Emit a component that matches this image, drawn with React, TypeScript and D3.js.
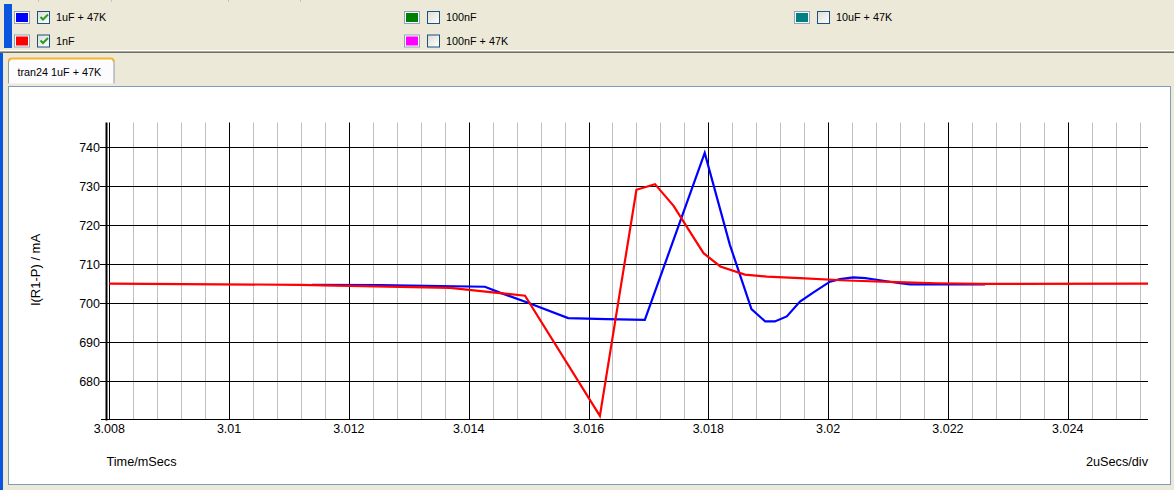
import React from "react";
import * as d3 from "d3";

// ---- data ----
const seriesNames = ["1uF + 47K", "100nF", "10uF + 47K", "1nF", "100nF + 47K"];
const seriesColors = ["#0000FF", "#008000", "#008080", "#FF0000", "#FF00FF"];
const seriesChecked = [true, false, false, true, false];

const blueT = [3.01138, 3.01252, 3.01427, 3.01452, 3.01499, 3.01566, 3.0163, 3.01694, 3.01794, 3.01836, 3.01872, 3.01895, 3.01911, 3.01931, 3.01953, 3.01975, 3.02003, 3.0202, 3.02042, 3.02062, 3.02081, 3.0212, 3.02137, 3.02262];
const blueV = [704.7, 704.6, 704.2, 702.7, 700.1, 696.15, 695.9, 695.7, 738.5, 714.95, 698.46, 695.3, 695.3, 696.6, 700.4, 702.7, 705.5, 706.15, 706.6, 706.4, 706.0, 705.1, 704.8, 704.8];

const redT = [3.008, 3.01118, 3.01369, 3.01452, 3.01494, 3.01619, 3.0168, 3.01711, 3.01742, 3.01792, 3.0182, 3.01861, 3.01898, 3.01953, 3.02031, 3.02115, 3.02181, 3.02254, 3.02534];
const redV = [705.0, 704.7, 703.9, 702.56, 701.9, 671.1, 729.05, 730.5, 724.95, 712.8, 709.4, 707.3, 706.8, 706.4, 705.8, 705.4, 705.1, 704.95, 705.0];

const xTicks = [3.008, 3.01, 3.012, 3.014, 3.016, 3.018, 3.02, 3.022, 3.024];
const yTicks = [680, 690, 700, 710, 720, 730, 740];

const xDomain = [3.008, 3.02534];
const yDomain = [670.3, 746.3];

const FONT = "'Liberation Sans', Arial, sans-serif";

export default function App() {
  const left = 109.3, right = 1148, top = 122.5, bottom = 419;
  const x = d3.scaleLinear().domain(xDomain).range([left, right]);
  const y = d3.scaleLinear().domain(yDomain).range([bottom, top]);
  const line = d3.line<[number, number]>().x(d => x(d[0])).y(d => y(d[1]));
  const blue = blueT.map((t, i) => [t, blueV[i]] as [number, number]);
  const red = redT.map((t, i) => [t, redV[i]] as [number, number]);
  const minor = d3.range(0, 44).map(i => 3.008 + i * 0.0004).filter(t => t <= xDomain[1]);
  const fmt = d3.format(".4~f");

  const legendCols = [14, 404, 794];
  const legendRows = [11, 34.5];
  // order: col-major as in picture
  const legendItems = [
    { i: 0, c: 0, r: 0 },
    { i: 3, c: 0, r: 1 },
    { i: 1, c: 1, r: 0 },
    { i: 4, c: 1, r: 1 },
    { i: 2, c: 2, r: 0 },
  ];

  return (
    <svg width={1174} height={490} style={{ position: "absolute", left: 0, top: 0 }} fontFamily={FONT}>
      <defs>
        <linearGradient id="cb" x1="0" y1="0" x2="1" y2="1">
          <stop offset="0" stopColor="#DCDCD6" />
          <stop offset="1" stopColor="#FFFFFF" />
        </linearGradient>
      </defs>
      <rect x={0} y={0} width={1174} height={490} fill="#ECE9D8" />
      {/* top strip separators */}
      {[38, 111, 228, 300].map(v => (
        <line key={v} x1={v + 0.5} x2={v + 0.5} y1={0} y2={2} stroke="#C8C5B5" />
      ))}
      {/* left blue bars */}
      <rect x={4} y={4} width={8} height={44} fill="#0A55E0" />
      <rect x={0} y={52} width={3} height={438} fill="#0A55E0" />
      {/* separator */}
      <line x1={0} x2={1174} y1={50.5} y2={50.5} stroke="#FFFFFF" />
      <line x1={0} x2={1174} y1={51.5} y2={51.5} stroke="#ACA899" />
      <line x1={0} x2={1174} y1={52.5} y2={52.5} stroke="#716F64" />
      {/* legend */}
      {legendItems.map(({ i, c, r }) => {
        const lx = legendCols[c];
        const ly = legendRows[r];
        return (
          <g key={i}>
            <rect x={lx + 0.5} y={ly + 0.5} width={15} height={12} fill="#FFFFFF" stroke="#8FA3BB" />
            <rect x={lx + 2} y={ly + 2} width={12} height={9} fill={seriesColors[i]} />
            <rect x={lx + 23.5} y={ly + 0.5} width={12} height={12} fill="url(#cb)" stroke="#1C5180" />
            {seriesChecked[i] && (
              <path d={`M${lx + 26.5},${ly + 6} l2.5,2.5 l5,-5`} fill="none" stroke="#21A121" strokeWidth={2} />
            )}
            <text x={lx + 42} y={ly + 10} fontSize={10.8} fill="#000">{seriesNames[i]}</text>
          </g>
        );
      })}
      {/* tab */}
      <path d="M8.5,83.5 L8.5,61 Q8.5,58.5 11,58.5 L111.5,58.5 Q114,58.5 114,61 L114,83.5" fill="#FCFCFE" stroke="#919B9C" />
      <path d="M9,61.5 Q9,58.5 12,58.5 L111,58.5 Q113.5,58.5 113.5,61.5" fill="none" stroke="#F7B431" strokeWidth={2} />
      <text x={17.5} y={75.5} fontSize={10.8} fill="#000">tran24 1uF + 47K</text>
      {/* panel */}
      <rect x={8.5} y={86.5} width={1162} height={398} fill="#FFFFFF" stroke="#7F9DB9" />
      {/* minor vertical grid */}
      {minor.map((t, k) => (
        <line key={k} x1={Math.round(x(t)) + 0.5} x2={Math.round(x(t)) + 0.5} y1={top} y2={bottom} stroke="#C0C0C0" />
      ))}
      {/* major vertical grid */}
      {xTicks.map(t => (
        <line key={t} x1={Math.round(x(t)) + 0.5} x2={Math.round(x(t)) + 0.5} y1={top} y2={bottom + 1} stroke="#000" />
      ))}
      {/* horizontal grid */}
      {yTicks.map(v => (
        <line key={v} x1={100} x2={right} y1={Math.round(y(v)) + 0.5} y2={Math.round(y(v)) + 0.5} stroke="#000" />
      ))}
      {/* axes */}
      <line x1={101} x2={right} y1={bottom + 0.5} y2={bottom + 0.5} stroke="#000" />
      <rect x={105.5} y={top} width={2} height={bottom - top + 1.5} fill="#000" />
      {/* tick labels */}
      {yTicks.map(v => (
        <text key={v} x={100} y={y(v) + 4.5} fontSize={12.5} textAnchor="end" fill="#000">{v}</text>
      ))}
      {xTicks.map(t => (
        <text key={t} x={x(t)} y={433} fontSize={12.5} textAnchor="middle" fill="#000">{fmt(t)}</text>
      ))}
      <text x={106.5} y={466} fontSize={12.7} fill="#000">Time/mSecs</text>
      <text x={1148} y={466} fontSize={12.7} textAnchor="end" fill="#000">2uSecs/div</text>
      <text transform="translate(39.5,270) rotate(-90)" fontSize={13} textAnchor="middle" fill="#000">I(R1-P) / mA</text>
      {/* series */}
      <path d={line(blue) || ""} fill="none" stroke="#0000FF" strokeWidth={2.2} />
      <path d={line(red) || ""} fill="none" stroke="#FF0000" strokeWidth={2.2} />
    </svg>
  );
}
